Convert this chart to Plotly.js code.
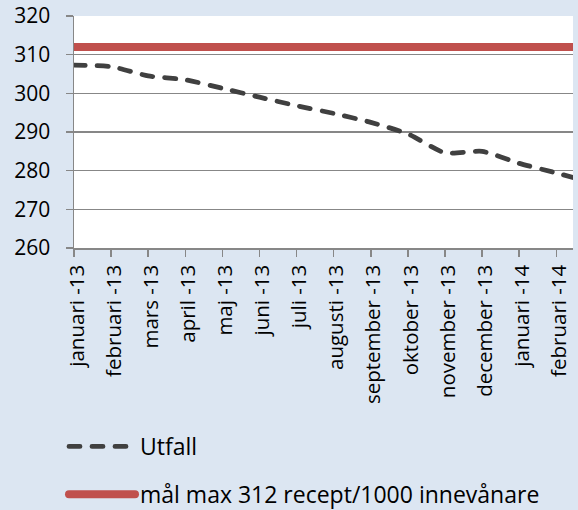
<!DOCTYPE html>
<html>
<head>
<meta charset="utf-8">
<script src="https://cdn.plot.ly/plotly-3.0.1.min.js"></script>
<style>
html,body{margin:0;padding:0;background:#dce6f2;}
#chart{width:578px;height:510px;}
</style>
</head>
<body>
<div id="chart"></div>
<script>
// Categories (the last one lies just past the visible right edge of the plot)
const categories = ["januari -13","februari -13","mars -13","april -13","maj -13","juni -13","juli -13",
  "augusti -13","september -13","oktober -13","november -13","december -13","januari -14","februari -14","mars -14"];
// Utfall (recept/1000 innevånare)
const utfall = [307.3, 306.9, 304.5, 303.5, 301.3, 299.0, 296.8, 294.8, 292.5, 289.5, 284.6, 285.0, 281.9, 279.4, 276.8];
// Target line: max 312
const mal = [312, 312, 312, 312, 312, 312, 312, 312, 312, 312, 312, 312, 312, 312, 312];
const yTicks = [260, 270, 280, 290, 300, 310, 320];
const seriesNames = ["Utfall", "mål max 312 recept/1000 innevånare"];

const FONT = "Open Sans";
const AX = "#878787";

const traces = [
  {
    x: categories, y: utfall, name: seriesNames[0], type: "scatter", mode: "lines",
    legendgroup: "a",
    line: {color: "#404040", width: 4.8, dash: "11px,12px", shape: "spline", smoothing: 0.6}
  },
  {
    x: categories, y: mal, name: seriesNames[1], type: "scatter", mode: "lines",
    legendgroup: "b",
    line: {color: "#c0504d", width: 8}
  }
];

const layout = {
  width: 578, height: 510,
  paper_bgcolor: "#dce6f2", plot_bgcolor: "#ffffff",
  margin: {l: 74, r: 5, t: 16, b: 262, pad: 0, autoexpand: false},
  font: {family: FONT, color: "#000"},
  showlegend: true,
  xaxis: {
    type: "category", range: [0, 13.45],
    tickmode: "array", tickvals: categories, ticktext: categories,
    tickangle: -90, ticks: "outside", ticklen: 7, tickwidth: 1.5, tickcolor: AX,
    ticklabelshift: 3,
    showline: true, linecolor: AX, linewidth: 1.5, showgrid: false, zeroline: false,
    tickfont: {family: FONT, size: 20.5, color: "#000"}, fixedrange: true, automargin: false
  },
  yaxis: {
    range: [260, 320], tickvals: yTicks, ticktext: yTicks.map(String),
    ticks: "outside", ticklen: 7, tickwidth: 1.5, tickcolor: AX,
    ticklabelstandoff: 11,
    showline: true, linecolor: AX, linewidth: 1.5,
    showgrid: true, gridcolor: AX, gridwidth: 1.3, zeroline: false,
    tickfont: {family: FONT, size: 21, color: "#000"}, fixedrange: true, automargin: false
  },
  legend: {
    orientation: "v", xref: "container", yref: "container",
    x: 64 / 578, y: 1 - 425 / 510, xanchor: "left", yanchor: "top",
    bgcolor: "rgba(0,0,0,0)", borderwidth: 0,
    font: {family: FONT, size: 23, color: "#000"},
    itemwidth: 66, traceorder: "grouped", tracegroupgap: 15
  }
};

Plotly.newPlot("chart", traces, layout, {displayModeBar: false, staticPlot: true}).then(function(gd){
  gd.querySelectorAll(".scatterlayer .js-line").forEach(function(p){
    p.style.strokeLinecap = "round";
  });
  gd.querySelectorAll(".legend .legendlines path").forEach(function(p){
    p.style.strokeLinecap = "round";
  });
});
</script>
</body>
</html>
